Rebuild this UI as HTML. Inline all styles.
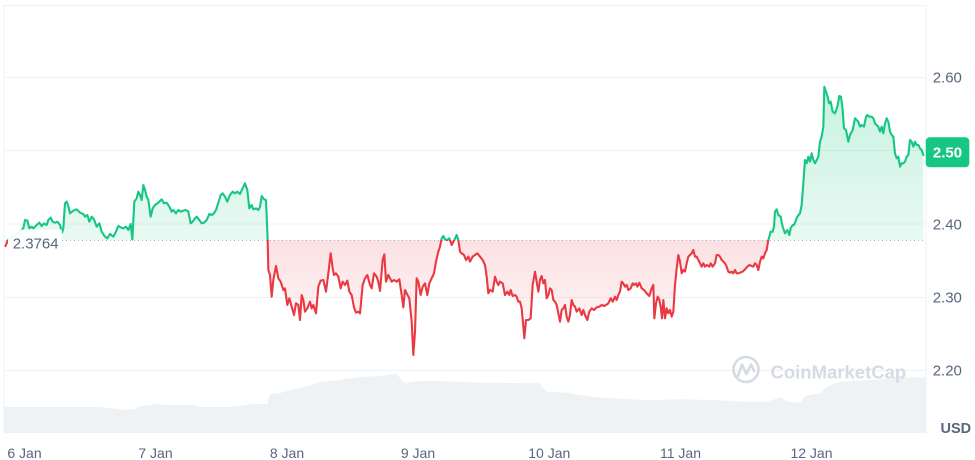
<!DOCTYPE html>
<html><head><meta charset="utf-8"><style>
html,body{margin:0;padding:0;background:#fff;}
svg{display:block;font-family:"Liberation Sans",sans-serif;}
</style></head><body>
<svg width="975" height="460" viewBox="0 0 975 460" xmlns="http://www.w3.org/2000/svg">
<defs>
<linearGradient id="gG" gradientUnits="userSpaceOnUse" x1="0" y1="80" x2="0" y2="240">
<stop offset="0" stop-color="#16c784" stop-opacity="0.24"/><stop offset="1" stop-color="#16c784" stop-opacity="0.1"/></linearGradient>
<linearGradient id="gR" gradientUnits="userSpaceOnUse" x1="0" y1="240" x2="0" y2="350">
<stop offset="0" stop-color="#ea3943" stop-opacity="0.15"/><stop offset="1" stop-color="#ea3943" stop-opacity="0.03"/></linearGradient>
<clipPath id="area">
<polygon transform="translate(0,170) scale(0.333333)" points="16.5,228 24,210 36,200 50,192 62,182 70,175 75,150 82,152 88,175 95,170 100,175 110,165 118,158 125,168 132,160 140,165 145,150 152,143 158,155 165,158 172,155 180,165 186,188 190,175 195,100 200,95 205,108 210,130 220,122 230,118 240,128 250,132 255,140 262,135 268,155 275,140 282,148 290,170 298,160 305,185 315,200 322,205 330,192 340,200 348,185 355,168 362,172 370,175 378,170 385,180 392,162 397,208 403,95 410,85 415,65 420,75 425,90 430,45 435,60 440,80 445,90 452,140 458,115 465,105 472,100 478,95 485,88 492,100 500,98 508,110 515,125 520,120 528,130 535,120 542,125 550,122 558,120 565,125 572,160 578,155 585,145 590,140 598,150 605,160 612,158 620,150 628,132 635,135 642,130 648,120 655,98 662,75 668,70 675,80 682,95 690,75 698,65 705,70 712,65 720,72 728,55 735,40 742,60 748,115 755,105 760,118 768,115 775,120 780,110 785,78 792,88 798,90 803,210 805,210 16.5,210"/>
<polygon transform="translate(250,220) scale(0.333333)" points="52,60 53,60 55,150 60,165 65,230 70,180 78,138 85,175 92,185 100,210 105,205 112,255 118,235 125,260 132,285 138,250 145,255 150,300 155,225 160,240 165,275 172,265 180,245 185,265 190,255 198,280 205,200 212,182 220,180 228,215 235,160 242,100 248,145 252,165 258,160 265,170 272,205 278,185 285,195 292,182 298,215 305,225 312,262 318,278 325,275 330,280 338,195 345,175 352,165 360,195 365,205 372,160 380,170 385,185 390,213 398,120 403,103 408,185 415,165 420,175 425,185 432,180 440,185 448,178 455,225 460,262 465,210 470,220 478,235 485,305 490,405 495,335 500,175 505,185 512,225 518,200 525,190 532,225 538,190 545,175 552,160 558,125 565,95 570,80 575,55 580,48 585,58 592,60 598,55 605,75 612,62 620,45 625,60 630,95 635,100 642,105 648,120 655,110 660,125 668,110 675,105 682,100 690,110 698,120 705,135 710,170 715,220 720,210 728,215 735,170 740,185 745,195 751,186 752,60"/>
<polygon transform="translate(500,220) scale(0.333333)" points="-1,60 -1,185 0,185 8,190 15,225 22,215 28,225 32,210 38,228 45,225 50,230 55,245 60,245 65,265 70,320 73,355 78,300 85,300 92,295 98,195 105,155 110,185 115,215 120,180 125,168 130,190 135,180 140,235 145,225 150,205 155,210 160,240 165,245 170,255 175,280 180,305 185,270 190,265 195,255 200,290 205,305 210,285 215,240 220,255 225,260 230,275 238,265 245,285 250,270 255,285 262,300 268,275 275,265 282,270 290,262 298,260 305,255 312,258 318,255 325,250 332,235 338,245 345,230 350,240 355,225 360,215 365,185 370,190 375,200 380,195 385,210 392,205 398,190 402,195 408,190 412,200 418,188 425,205 432,210 440,220 448,228 455,205 460,195 463,295 468,250 473,230 478,240 482,260 486,295 490,240 495,295 500,265 505,280 510,270 515,290 520,275 525,195 530,145 535,105 540,125 545,160 550,150 555,155 560,130 565,110 570,105 575,100 580,90 585,110 590,110 595,120 600,130 605,140 610,130 615,140 620,135 628,140 632,130 638,140 645,130 650,105 655,105 660,110 665,120 670,125 675,130 680,140 685,155 690,158 695,155 700,160 705,150 710,160 715,160 720,158 728,155 735,148 742,140 748,135 755,138 760,140 765,130 770,135 775,150 780,125 785,110 790,115 795,100 800,90 805,60 808,50 812,35 819,35 819,60"/>
<polygon transform="translate(760,60) scale(0.333333)" points="37,540 37,515 38,515 42,500 45,455 50,448 55,465 62,470 68,500 75,520 82,510 88,525 92,505 98,495 102,495 108,480 112,470 120,460 125,435 130,370 135,300 140,310 145,290 150,305 155,280 160,300 165,310 170,300 175,290 180,245 185,230 190,200 193,80 198,95 203,110 207,130 212,125 218,155 225,160 232,140 238,108 243,110 248,150 252,205 258,210 265,245 270,225 278,210 285,175 290,180 295,185 300,200 305,195 312,200 318,170 322,165 328,170 335,170 340,175 345,190 350,195 355,200 360,215 365,200 370,220 375,190 380,175 385,185 390,215 395,225 400,230 405,280 410,295 415,290 420,320 425,310 430,310 435,305 440,290 445,285 450,240 455,245 460,260 465,245 470,255 475,255 480,265 485,270 490,285 490,540"/>
</clipPath>
<clipPath id="above"><rect x="0" y="0" width="975" height="240"/></clipPath>
<clipPath id="below"><rect x="0" y="240" width="975" height="220"/></clipPath>
<g id="line" fill="none" stroke-width="6.3" stroke-linejoin="round" stroke-linecap="round">
<polyline transform="translate(0,170) scale(0.333333)" points="16.5,228 24,210 36,200 50,192 62,182 70,175 75,150 82,152 88,175 95,170 100,175 110,165 118,158 125,168 132,160 140,165 145,150 152,143 158,155 165,158 172,155 180,165 186,188 190,175 195,100 200,95 205,108 210,130 220,122 230,118 240,128 250,132 255,140 262,135 268,155 275,140 282,148 290,170 298,160 305,185 315,200 322,205 330,192 340,200 348,185 355,168 362,172 370,175 378,170 385,180 392,162 397,208 403,95 410,85 415,65 420,75 425,90 430,45 435,60 440,80 445,90 452,140 458,115 465,105 472,100 478,95 485,88 492,100 500,98 508,110 515,125 520,120 528,130 535,120 542,125 550,122 558,120 565,125 572,160 578,155 585,145 590,140 598,150 605,160 612,158 620,150 628,132 635,135 642,130 648,120 655,98 662,75 668,70 675,80 682,95 690,75 698,65 705,70 712,65 720,72 728,55 735,40 742,60 748,115 755,105 760,118 768,115 775,120 780,110 785,78 792,88 798,90 803,210"/>
<polyline transform="translate(250,220) scale(0.333333)" points="53,60 55,150 60,165 65,230 70,180 78,138 85,175 92,185 100,210 105,205 112,255 118,235 125,260 132,285 138,250 145,255 150,300 155,225 160,240 165,275 172,265 180,245 185,265 190,255 198,280 205,200 212,182 220,180 228,215 235,160 242,100 248,145 252,165 258,160 265,170 272,205 278,185 285,195 292,182 298,215 305,225 312,262 318,278 325,275 330,280 338,195 345,175 352,165 360,195 365,205 372,160 380,170 385,185 390,213 398,120 403,103 408,185 415,165 420,175 425,185 432,180 440,185 448,178 455,225 460,262 465,210 470,220 478,235 485,305 490,405 495,335 500,175 505,185 512,225 518,200 525,190 532,225 538,190 545,175 552,160 558,125 565,95 570,80 575,55 580,48 585,58 592,60 598,55 605,75 612,62 620,45 625,60 630,95 635,100 642,105 648,120 655,110 660,125 668,110 675,105 682,100 690,110 698,120 705,135 710,170 715,220 720,210 728,215 735,170 740,185 745,195 750,186"/>
<polyline transform="translate(500,220) scale(0.333333)" points="0,185 8,190 15,225 22,215 28,225 32,210 38,228 45,225 50,230 55,245 60,245 65,265 70,320 73,355 78,300 85,300 92,295 98,195 105,155 110,185 115,215 120,180 125,168 130,190 135,180 140,235 145,225 150,205 155,210 160,240 165,245 170,255 175,280 180,305 185,270 190,265 195,255 200,290 205,305 210,285 215,240 220,255 225,260 230,275 238,265 245,285 250,270 255,285 262,300 268,275 275,265 282,270 290,262 298,260 305,255 312,258 318,255 325,250 332,235 338,245 345,230 350,240 355,225 360,215 365,185 370,190 375,200 380,195 385,210 392,205 398,190 402,195 408,190 412,200 418,188 425,205 432,210 440,220 448,228 455,205 460,195 463,295 468,250 473,230 478,240 482,260 486,295 490,240 495,295 500,265 505,280 510,270 515,290 520,275 525,195 530,145 535,105 540,125 545,160 550,150 555,155 560,130 565,110 570,105 575,100 580,90 585,110 590,110 595,120 600,130 605,140 610,130 615,140 620,135 628,140 632,130 638,140 645,130 650,105 655,105 660,110 665,120 670,125 675,130 680,140 685,155 690,158 695,155 700,160 705,150 710,160 715,160 720,158 728,155 735,148 742,140 748,135 755,138 760,140 765,130 770,135 775,150 780,125 785,110 790,115 795,100 800,90 805,60 808,50 812,35 818,35"/>
<polyline transform="translate(760,60) scale(0.333333)" points="38,515 42,500 45,455 50,448 55,465 62,470 68,500 75,520 82,510 88,525 92,505 98,495 102,495 108,480 112,470 120,460 125,435 130,370 135,300 140,310 145,290 150,305 155,280 160,300 165,310 170,300 175,290 180,245 185,230 190,200 193,80 198,95 203,110 207,130 212,125 218,155 225,160 232,140 238,108 243,110 248,150 252,205 258,210 265,245 270,225 278,210 285,175 290,180 295,185 300,200 305,195 312,200 318,170 322,165 328,170 335,170 340,175 345,190 350,195 355,200 360,215 365,200 370,220 375,190 380,175 385,185 390,215 395,225 400,230 405,280 410,295 415,290 420,320 425,310 430,310 435,305 440,290 445,285 450,240 455,245 460,260 465,245 470,255 475,255 480,265 485,270 490,285"/>
</g>
</defs>
<rect width="975" height="460" fill="#fff"/>
<g stroke="#eff2f5" stroke-width="1">
<line x1="4" y1="5.5" x2="926" y2="5.5"/>
<line x1="4" y1="77.5" x2="926" y2="77.5"/>
<line x1="4" y1="150.5" x2="926" y2="150.5"/>
<line x1="4" y1="224" x2="926" y2="224"/>
<line x1="4" y1="297.5" x2="926" y2="297.5"/>
<line x1="4" y1="370.5" x2="926" y2="370.5"/>
<line x1="4" y1="5" x2="4" y2="434"/>
<line x1="926" y1="5" x2="926" y2="434"/>
</g>
<polygon fill="#eff2f5" points="4.5,433 4.5,406 7,407 60,407 100,407 110,408 125,410 135,409 140,406 150,405 155,404 170,405 195,405 200,407 230,407 245,405 252,404 267,404 270,394 280,393 290,390 300,388 315,384 320,382 330,381 345,379 360,377 380,376 393,374 397,374 400,378 405,384 410,382 420,381 440,381 480,382.7 540,383.3 543,388.3 547,391.7 567,392.7 580,395 597,397.3 630,399.3 653,400 680,399.3 713,400 747,401.7 767,401.7 780,397.3 788,401.7 800,402.7 805,396 820,393.3 827,386.7 840,381.7 880,379.3 913,377.3 925.5,377.3 925.5,433"/>
<g fill="none" stroke="#d5dbe4" stroke-width="2.6" stroke-linecap="round" stroke-linejoin="round">
<circle cx="746" cy="369.5" r="12.5"/>
<polyline points="738,376 742,364.5 746.5,374 751,364.5 754,371"/>
</g>
<text x="770.5" y="378.5" font-size="18.5" font-weight="bold" fill="#d5dbe4">CoinMarketCap</text>
<g clip-path="url(#area)">
<rect x="0" y="0" width="975" height="240" fill="url(#gG)"/>
<rect x="0" y="240" width="975" height="200" fill="url(#gR)"/>
</g>
<line x1="6" y1="240.5" x2="926" y2="240.5" stroke="#a6b0c3" stroke-width="1" stroke-dasharray="1,3"/>
<g clip-path="url(#above)"><use href="#line" stroke="#16c784"/></g>
<g clip-path="url(#below)"><use href="#line" stroke="#ea3943"/></g>
<rect x="8" y="229.5" width="54" height="23" fill="#fff" fill-opacity="0.92"/>
<text x="12.7" y="248.3" font-size="15" fill="#58667e">2.3764</text>
<g font-size="15" fill="#58667e">
<text x="932.7" y="82.7">2.60</text>
<text x="932.7" y="229.3">2.40</text>
<text x="932.7" y="302.6">2.30</text>
<text x="932.7" y="375.3">2.20</text>
</g>
<rect x="925.7" y="137.3" width="43.6" height="30" rx="4" fill="#16c784"/>
<text x="947.5" y="157.6" font-size="15" font-weight="bold" fill="#fff" text-anchor="middle">2.50</text>
<text x="940.5" y="433" font-size="14.5" font-weight="bold" fill="#58667e">USD</text>
<g font-size="14" fill="#58667e" text-anchor="middle">
<text x="24.5" y="458">6 Jan</text>
<text x="155.5" y="458">7 Jan</text>
<text x="287" y="458">8 Jan</text>
<text x="418" y="458">9 Jan</text>
<text x="549.3" y="458">10 Jan</text>
<text x="680.5" y="458">11 Jan</text>
<text x="811.5" y="458">12 Jan</text>
</g>
</svg>
</body></html>
